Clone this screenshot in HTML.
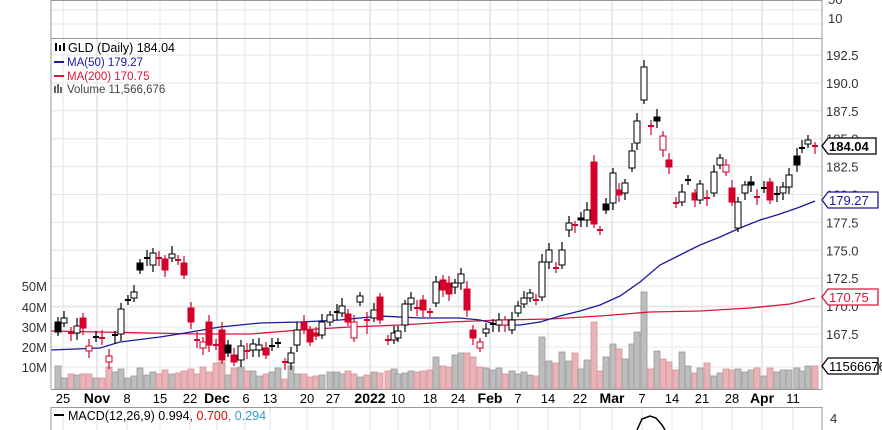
<!DOCTYPE html>
<html><head><meta charset="utf-8"><style>
html,body{margin:0;padding:0;background:#fff;width:882px;height:430px;overflow:hidden}
svg{display:block;font-family:"Liberation Sans",sans-serif}
</style></head><body>
<svg id="s" width="882" height="430" xmlns="http://www.w3.org/2000/svg"></svg>
<script>
const s=document.getElementById('s');let h='';
const L=51,R=822;
const vx=[63,97,127,160,190,217,245,270,307,333,370,398,430,458,490,518,548,580,612,642,672,702,732,762,793];
const major=[97,217,370,490,612,762];
vx.forEach(x=>{h+=`<line x1="${x}" y1="0" x2="${x}" y2="389" stroke="${major.includes(x)?'#d0d0d0':'#e4e4e4'}"/>`;
 h+=`<line x1="${x}" y1="408" x2="${x}" y2="430" stroke="#e4e4e4"/>`;});
const py=p=>55+(192.5-p)*11.16;
[192.5,190,187.5,185,182.5,180,177.5,175,172.5,170,167.5].forEach(p=>{const y=py(p);h+=`<line x1="${L}" y1="${y}" x2="${R}" y2="${y}" stroke="#e4e4e4"/><text x="826" y="${y+5}" font-size="13" fill="#333">${p.toFixed(1)}</text>`;});
[367,347,327,307,286].forEach((y,i)=>{h+=`<line x1="${L}" y1="${y}" x2="${R}" y2="${y}" stroke="#e8e8e8"/><text x="47" y="${y+5}" font-size="13" fill="#333" text-anchor="end">${(i+1)*10}M</text>`;});
[10,24].forEach(y=>h+=`<line x1="${L}" y1="${y}" x2="${R}" y2="${y}" stroke="#e4e4e4"/>`);
h+=`<text x="828" y="23" font-size="13" fill="#333">10</text><text x="828" y="4" font-size="13" fill="#333">50</text>`;
const C=[[58,322,332,'f'],[64,318,323,'h'],[71,333,334,'rc'],[77,326,333,'h'],[83,318,328,'r'],[89,346,351,'rh'],[96,337,338,'c'],[102,338,341,'rc'],[109,356,362,'rh'],[115,335,337,'c'],[121,309,334,'h'],[128,300,301,'c'],[134,292,298,'h'],[140,263,270,'f'],[147,258,259,'c'],[153,253,265,'h'],[159,258,259,'rc'],[165,259,270,'r'],[172,254,258,'h'],[178,260,261,'rc'],[184,263,275,'r'],[191,308,322,'r'],[197,340,341,'rc'],[203,342,348,'rh'],[209,322,345,'r'],[216,345,346,'rc'],[222,330,360,'r'],[228,345,353,'f'],[234,355,362,'r'],[241,346,360,'h'],[247,351,352,'rc'],[253,344,350,'h'],[259,345,350,'h'],[266,348,355,'r'],[272,346,347,'c'],[278,343,344,'c'],[285,362,363,'rc'],[291,353,363,'h'],[297,330,345,'h'],[304,322,330,'r'],[310,330,342,'r'],[316,333,336,'r'],[322,322,335,'h'],[330,315,322,'h'],[337,312,313,'c'],[342,306,313,'h'],[348,314,322,'r'],[354,322,338,'rh'],[360,296,302,'h'],[367,320,327,'rc'],[374,310,318,'h'],[380,297,320,'r'],[388,340,341,'rc'],[394,333,340,'h'],[398,331,338,'h'],[405,304,325,'h'],[411,298,304,'h'],[417,308,309,'rc'],[423,300,310,'r'],[430,312,313,'rc'],[436,282,303,'h'],[443,280,290,'r'],[449,283,294,'r'],[455,283,287,'h'],[461,274,283,'h'],[467,289,310,'r'],[473,330,338,'r'],[480,342,348,'rh'],[486,329,333,'h'],[493,324,325,'c'],[499,320,325,'h'],[505,320,325,'rh'],[512,320,330,'h'],[518,306,313,'h'],[524,298,304,'h'],[530,293,298,'h'],[536,300,301,'rc'],[542,262,297,'h'],[549,250,262,'h'],[556,268,269,'rc'],[562,250,265,'h'],[569,223,230,'h'],[575,225,226,'rc'],[581,218,220,'f'],[587,210,220,'h'],[594,162,224,'r'],[600,230,231,'rc'],[606,204,210,'f'],[613,173,203,'h'],[619,190,195,'r'],[625,183,193,'h'],[632,151,168,'h'],[637,121,143,'h'],[644,67,100,'h'],[651,126,128,'rc'],[657,117,121,'f'],[663,136,150,'rh'],[669,160,167,'r'],[676,203,204,'rc'],[682,192,202,'h'],[688,180,181,'c'],[695,193,200,'r'],[700,184,200,'h'],[707,198,199,'rc'],[714,172,193,'h'],[720,158,165,'h'],[726,165,172,'rh'],[732,188,202,'r'],[738,202,228,'h'],[745,185,193,'h'],[751,182,185,'f'],[757,197,198,'rc'],[764,188,189,'c'],[770,182,200,'r'],[777,194,195,'c'],[783,187,193,'h'],[789,175,187,'h'],[797,156,165,'f'],[802,148,149,'c'],[808,140,144,'h'],[815,146,147,'rc']];
const VT={58:366,64:378,71:374,77:375,83:374,89:374,96:378,102:378,109:367,115:372,121:369,128:378,134:376,140:368,147:375,153:372,159:374,165:370,172:374,178:373,184:371,191:369,197:374,203:367,209:372,216:363,222:362,228:375,234:368,241:367,247:371,253:371,259:376,266:374,272:372,278:368,285:379,291:366,297:374,304:374,310:377,316:376,322:375,329:376,337:372,342:374,348:371,354:374,360:377,367:375,374:372,380:373,388:371,394:369,398:374,405:373,411:371,417:372,423:371,430:370,436:357,443:366,449:367,455:355,461:353,467:353,473:357,480:367,486:368,493:370,499:368,505:374,512:371,518:374,524:372,530:375,536:376,542:337,549:361,556:363,562:352,569:361,575:353,581:369,587:360,594:322,600:371,606:357,613:344,619:349,625:359,632:344,637:332,644:292,650:333,657:351,663:359,669:362,675:353,682:352,688:366,694:360,700:368,707:363,713:370,720:373,726:369,732:370,738:369,745:372,751:370,757:368,764:376,770:368,777:372,783:370,789:370,797:368,802:371,808:366,815:366};
C.forEach(([x,t,b,k],i)=>{const red=k[0]=='r';const top=VT[x]||(368+(i*7)%9);
 h+=`<rect x="${x-3}" y="${top}" width="6" height="${389-top}" fill="${red?'#e8b4b8':'#bdbdbd'}" stroke="${red?'#d79098':'#999'}" stroke-width="0.8"/>`;});
const ma50=[[51,350],[100,348],[120,342],[160,337],[185,333],[220,327],[260,323],[300,322],[340,320],[380,316],[420,318],[460,318],[480,320],[500,325],[520,325],[540,322],[560,316],[580,311],[600,305],[620,296],[640,282],[660,265],[680,255],[700,245],[720,237],[740,228],[760,220],[780,214],[800,207],[815,201]];
const ma200=[[51,331],[100,332],[150,333],[200,334],[250,334],[300,330],[350,327],[400,325],[450,322],[500,320],[550,319],[600,316],[650,312],[700,311],[750,308],[790,304],[815,298]];
h+=`<polyline points="${ma200.join(' ')}" fill="none" stroke="#dc143c" stroke-width="1.3"/>`;
h+=`<polyline points="${ma50.join(' ')}" fill="none" stroke="#1a1a9a" stroke-width="1.3"/>`;
C.forEach(([x,t,b,k])=>{const red=k[0]=='r';const col=red?'#d4002a':'#000';
 const wt=t-4-(x*7%5),wb=b+4+(x*3%6);
 h+=`<line x1="${x}" y1="${wt}" x2="${x}" y2="${wb}" stroke="${col}" stroke-width="1.2"/>`;
 if(k=='c'||k=='rc'){h+=`<line x1="${x-3}" y1="${t}" x2="${x+3}" y2="${t}" stroke="${col}" stroke-width="2"/>`;}
 else{const fill=(k=='f'||k=='r')?col:'#fff';h+=`<rect x="${x-3}" y="${t}" width="6" height="${Math.max(b-t,2)}" fill="${fill}" stroke="${col}" stroke-width="1"/>`;}
});
h+=`<line x1="${L}" y1="0" x2="${L}" y2="389" stroke="#999"/><line x1="${R}" y1="0" x2="${R}" y2="389" stroke="#999"/>`;
h+=`<line x1="${L}" y1="0.5" x2="${R}" y2="0.5" stroke="#999"/><line x1="${L}" y1="38.5" x2="${R}" y2="38.5" stroke="#999"/><line x1="${L}" y1="389.5" x2="${R}" y2="389.5" stroke="#999"/>`;
h+=`<rect x="${L}" y="407.5" width="${R-L}" height="30" fill="none" stroke="#999"/>`;
h+=`<rect x="55" y="43" width="2" height="8" fill="#000"/><rect x="59" y="45" width="2" height="6" fill="#000"/><rect x="63" y="43" width="2" height="8" fill="#000"/>`;
h+=`<text x="68" y="52" font-size="12.5" fill="#000">GLD (Daily) 184.04</text>`;
h+=`<rect x="54" y="61" width="10" height="2" fill="#1a1a9a"/><text x="67" y="66" font-size="11.5" fill="#1a1a9a">MA(50) 179.27</text>`;
h+=`<rect x="54" y="75" width="10" height="2" fill="#dc143c"/><text x="67" y="80" font-size="11.5" fill="#dc143c">MA(200) 170.75</text>`;
h+=`<rect x="54" y="86" width="2" height="7" fill="#666"/><rect x="57" y="84" width="2" height="9" fill="#666"/><rect x="60" y="87" width="2" height="6" fill="#666"/><text x="67" y="93" font-size="11.5" fill="#444">Volume 11,566,676</text>`;
const dl=[[63,'25',0],[97,'Nov',1],[127,'8',0],[160,'15',0],[190,'22',0],[217,'Dec',1],[246,'6',0],[270,'13',0],[307,'20',0],[333,'27',0],[370,'2022',1],[398,'10',0],[430,'18',0],[458,'24',0],[490,'Feb',1],[518,'7',0],[548,'14',0],[580,'22',0],[612,'Mar',1],[642,'7',0],[672,'14',0],[702,'21',0],[732,'28',0],[762,'Apr',1],[793,'11',0]];
dl.forEach(([x,t,b])=>h+=`<text x="${x}" y="403" font-size="${b?14:13}" font-weight="${b?'bold':'normal'}" text-anchor="middle" fill="#000">${t}</text>`);
const tag=(y,txt,c,b)=>{h+=`<path d="M822,${y} l6,-8 h${b?48:50} v16 h-${b?48:50} z" fill="#fff" stroke="${c}" stroke-width="1.3"/><text x="829" y="${y+5}" font-size="13" font-weight="${b?'bold':'normal'}" fill="${b?'#000':c}">${txt}</text>`;};
tag(146,'184.04','#000',1);tag(200,'179.27','#1a1a9a',0);tag(297,'170.75','#dc143c',0);tag(366,'11566676','#000',0);
h+=`<rect x="54" y="414" width="10" height="2" fill="#000"/><text x="68" y="420" font-size="12.5" fill="#000">MACD(12,26,9) 0.994<tspan fill="#e00">, 0.700</tspan><tspan fill="#3399cc">, 0.294</tspan></text>`;
h+=`<text x="830" y="423" font-size="13" fill="#333">4</text>`;
h+=`<polyline points="637,430 642,419 650,416 656,418 662,425 665,430" fill="none" stroke="#000" stroke-width="1.5"/>`;
s.innerHTML=h;
</script>
</body></html>
